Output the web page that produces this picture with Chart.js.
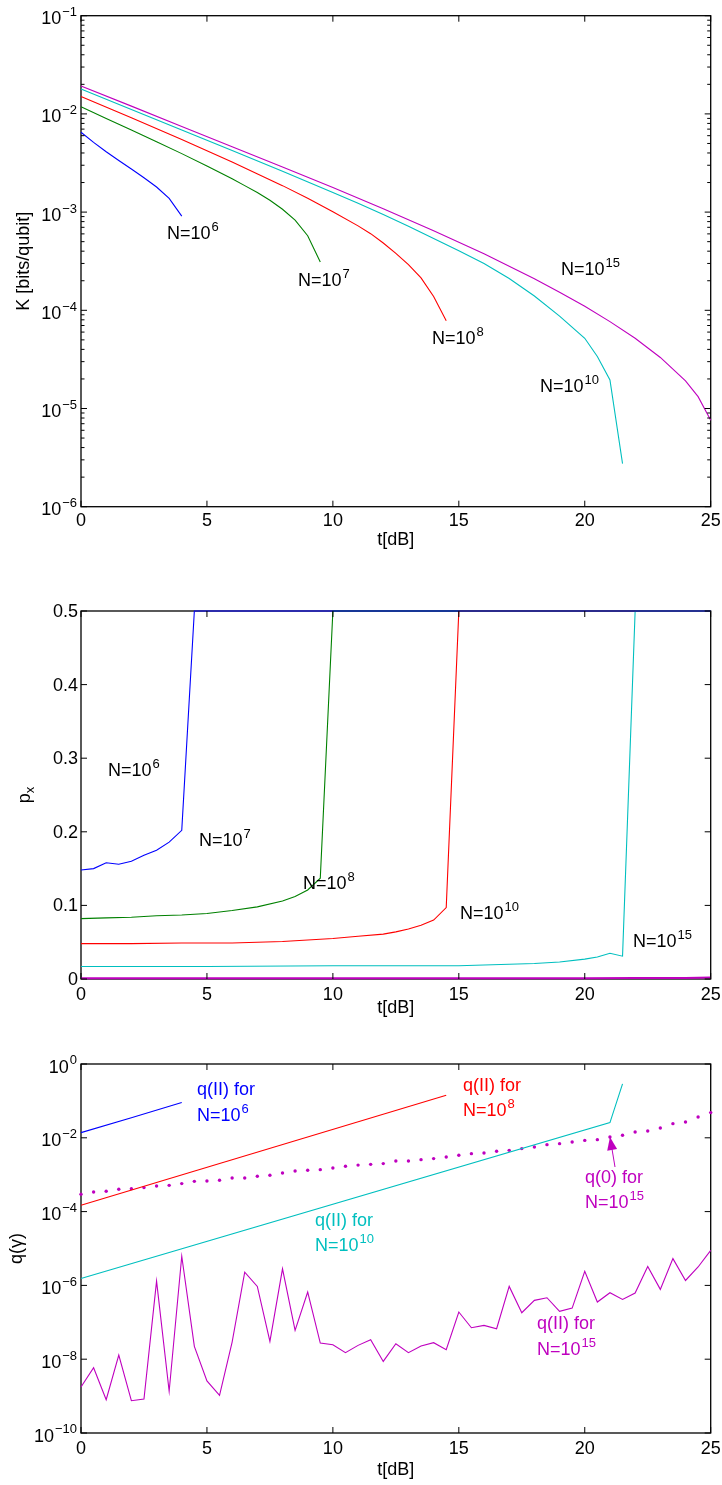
<!DOCTYPE html>
<html>
<head>
<meta charset="utf-8">
<title>K, p_x and q(γ) against t[dB]</title>
<script src="https://cdn.jsdelivr.net/npm/chart.js@4.4.1/dist/chart.umd.min.js"></script>
<style>
  body { margin: 0; background: #fff; }
  #wrap { position: relative; width: 722px; height: 1485px; overflow: hidden; }
  canvas { position: absolute; left: 0; }
</style>
</head>
<body>
<div id="wrap">
  <canvas id="kChart" width="722" height="560" style="top:0px"></canvas>
  <canvas id="pChart" width="722" height="470" style="top:560px"></canvas>
  <canvas id="qChart" width="722" height="455" style="top:1030px"></canvas>
</div>
<script>
const FONT = '"Liberation Sans", Arial, Helvetica, sans-serif';
const BLUE = '#0000ff', GREEN = '#008000', RED = '#ff0000', CYAN = '#00bfbf', MAGENTA = '#bf00bf';

// ---- top panel: K [bits/qubit] vs t[dB] ----
const kT6 = [0, 0.5, 1, 1.5, 2, 2.5, 3, 3.5, 4];
const kV6 = [6.5e-3, 5.13e-3, 4.12e-3, 3.35e-3, 2.75e-3, 2.24e-3, 1.80e-3, 1.38e-3, 9.1e-4];
const kT7 = [0, 1, 2, 3, 4, 5, 6, 6.5, 7, 7.5, 8, 8.5, 9, 9.5];
const kV7 = [1.18e-2, 9.0e-3, 6.87e-3, 5.21e-3, 3.94e-3, 2.95e-3, 2.19e-3, 1.86e-3, 1.58e-3, 1.32e-3, 1.07e-3, 8.3e-4, 5.75e-4, 3.1e-4];
const kT8 = [0, 2, 4, 6, 8, 9, 10, 11, 11.5, 12, 12.5, 13, 13.5, 14, 14.5];
const kV8 = [1.5e-2, 9.12e-3, 5.5e-3, 3.24e-3, 1.86e-3, 1.38e-3, 1.01e-3, 7.24e-4, 6.03e-4, 4.84e-4, 3.8e-4, 2.92e-4, 2.14e-4, 1.38e-4, 7.83e-5];
const kT10 = [0, 2, 4, 6, 8, 10, 11, 12, 13, 14, 15, 16, 17, 18, 19, 20, 20.5, 21, 21.5];
const kV10 = [1.79e-2, 1.11e-2, 6.87e-3, 4.24e-3, 2.6e-3, 1.58e-3, 1.23e-3, 9.44e-4, 7.16e-4, 5.4e-4, 4.05e-4, 2.99e-4, 2.11e-4, 1.4e-4, 8.71e-5, 5.19e-5, 3.39e-5, 1.95e-5, 2.75e-6];
const kT15 = [0, 2, 4, 6, 8, 10, 12, 14, 16, 18, 19, 20, 21, 22, 23, 24, 24.5, 25];
const kV15 = [1.92e-2, 1.2e-2, 7.45e-3, 4.63e-3, 2.88e-3, 1.78e-3, 1.08e-3, 6.46e-4, 3.76e-4, 2.09e-4, 1.53e-4, 1.1e-4, 7.67e-5, 5.19e-5, 3.31e-5, 1.91e-5, 1.32e-5, 7.6e-6];

// ---- middle panel: p_x vs t[dB] ----
const pT6 = [0, 0.5, 1, 1.5, 2, 2.5, 3, 3.5, 4, 4.5, 25];
const pV6 = [0.148, 0.150, 0.158, 0.156, 0.160, 0.168, 0.175, 0.186, 0.202, 0.5, 0.5];
const pT7 = [0, 1, 2, 3, 4, 5, 6, 7, 8, 8.5, 9, 9.5, 10, 25];
const pV7 = [0.082, 0.083, 0.084, 0.086, 0.087, 0.089, 0.093, 0.098, 0.106, 0.112, 0.121, 0.137, 0.5, 0.5];
const pT8 = [0, 2, 4, 6, 8, 10, 11, 12, 12.5, 13, 13.5, 14, 14.5, 15, 25];
const pV8 = [0.048, 0.048, 0.049, 0.049, 0.051, 0.055, 0.058, 0.061, 0.064, 0.068, 0.073, 0.080, 0.097, 0.5, 0.5];
const pT10 = [0, 5, 10, 15, 16, 17, 18, 19, 20, 20.5, 21, 21.5, 22, 25];
const pV10 = [0.017, 0.017, 0.018, 0.018, 0.019, 0.020, 0.021, 0.023, 0.027, 0.030, 0.035, 0.031, 0.5, 0.5];
const pT15 = [0, 5, 10, 15, 20, 22, 24, 25];
const pV15 = [0.001, 0.001, 0.001, 0.001, 0.001, 0.0012, 0.0015, 0.002];

// ---- bottom panel: q(gamma) vs t[dB] ----
const qT6 = [0, 2, 4];
const qV6 = [1.38e-2, 3.5e-2, 9.0e-2];
const qT8 = [0, 14.5];
const qV8 = [1.48e-4, 0.142];
const qT10 = [0, 21, 21.5];
const qV10 = [1.53e-6, 2.58e-2, 0.29];
const qT15 = [0, 0.5, 1, 1.5, 2, 2.5, 3, 3.5, 4, 4.5, 5, 5.5, 6, 6.5, 7, 7.5, 8, 8.5, 9, 9.5,
  10, 10.5, 11, 11.5, 12, 12.5, 13, 13.5, 14, 14.5, 15, 15.5, 16, 16.5, 17, 17.5, 18, 18.5, 19, 19.5,
  20, 20.5, 21, 21.5, 22, 22.5, 23, 23.5, 24, 24.5, 25];
const q0V15 = [2.94e-4, 3.40e-4, 3.55e-4, 4.02e-4, 4.19e-4, 4.47e-4, 4.94e-4, 5.15e-4, 5.73e-4, 6.61e-4,
  6.76e-4, 7.05e-4, 8.13e-4, 8.13e-4, 9.06e-4, 9.64e-4, 1.11e-3, 1.26e-3, 1.32e-3, 1.37e-3,
  1.52e-3, 1.69e-3, 1.82e-3, 1.91e-3, 2.0e-3, 2.36e-3, 2.36e-3, 2.56e-3, 2.73e-3, 3.02e-3,
  3.36e-3, 3.72e-3, 3.89e-3, 4.31e-3, 4.57e-3, 5.09e-3, 5.62e-3, 6.53e-3, 6.95e-3, 7.71e-3,
  8.51e-3, 8.91e-3, 1.05e-2, 1.17e-2, 1.44e-2, 1.53e-2, 1.85e-2, 2.42e-2, 2.69e-2, 3.66e-2, 4.82e-2];
const qIIV15 = [1.76e-9, 5.89e-9, 8.0e-10, 1.30e-8, 7.5e-10, 8.3e-10, 1.31e-6, 1.35e-9, 6.17e-6, 2.23e-8,
  2.57e-9, 1.05e-9, 2.92e-8, 2.29e-6, 9.4e-7, 3.04e-8, 2.82e-6, 6.04e-8, 6.6e-7, 2.74e-8,
  2.47e-8, 1.50e-8, 2.37e-8, 3.39e-8, 8.7e-9, 2.63e-8, 1.50e-8, 2.28e-8, 2.80e-8, 1.81e-8,
  1.90e-7, 7.13e-8, 8.24e-8, 6.70e-8, 9.4e-7, 1.82e-7, 3.93e-7, 4.63e-7, 1.98e-7, 2.43e-7,
  2.40e-6, 3.54e-7, 6.32e-7, 4.18e-7, 6.19e-7, 3.27e-6, 7.8e-7, 5.32e-6, 1.36e-6, 3.16e-6, 8.9e-6];

// axis ticks
const dbTicks = [0, 5, 10, 15, 20, 25];
const kTicks = [1e-6, 1e-5, 1e-4, 1e-3, 1e-2, 1e-1];
const pTicks = [0, 0.1, 0.2, 0.3, 0.4, 0.5];
const qTicks = [1e-10, 1e-8, 1e-6, 1e-4, 1e-2, 1];

// draws base text with an optional superscript, left/right aligned at baseline y
function drawSup(ctx, base, sup, x, y, size, color, align) {
    ctx.save();
    ctx.fillStyle = color || '#000';
    ctx.textBaseline = 'alphabetic';
    ctx.textAlign = 'left';
    const ss = Math.round(size * 0.72);
    ctx.font = size + 'px ' + FONT;
    const wb = ctx.measureText(base).width;
    ctx.font = ss + 'px ' + FONT;
    const ws = sup ? ctx.measureText(sup).width + 1 : 0;
    let x0 = x;
    if (align === 'right') x0 = x - wb - ws;
    if (align === 'center') x0 = x - (wb + ws) / 2;
    ctx.font = size + 'px ' + FONT;
    ctx.fillText(base, x0, y);
    if (sup) {
        ctx.font = ss + 'px ' + FONT;
        ctx.fillText(sup, x0 + wb + 1, y - size * 0.45);
    }
    ctx.restore();
}

function powLabel(v) {
    const e = Math.round(Math.log10(v));
    return e < 0 ? '\u2212' + (-e) : String(e);
}

function logMinors(ticks) {
    const out = [];
    for (let i = 0; i < ticks.length - 1; i++) {
        for (let m = 2; m <= 9; m++) out.push(ticks[i] * m);
    }
    return out;
}

// MATLAB-like box, inward ticks, labels and annotations
function matlabAxes(o) {
    return {
        id: 'matlabAxes',
        beforeDatasetsDraw(chart) {
            const { ctx, chartArea: a } = chart;
            ctx.save();
            ctx.strokeStyle = '#000';
            ctx.lineWidth = 1.3;
            ctx.strokeRect(a.left, a.top, a.right - a.left, a.bottom - a.top);
            ctx.restore();
        },
        afterDatasetsDraw(chart) {
            const { ctx, chartArea: a, scales } = chart;
            const xs = scales.x, ys = scales.y;
            const off = o.canvasTop;
            ctx.save();
            ctx.strokeStyle = '#000';
            ctx.lineWidth = 1;
            ctx.beginPath();
            o.xTicks.forEach(v => {
                const px = xs.getPixelForValue(v);
                ctx.moveTo(px, a.bottom); ctx.lineTo(px, a.bottom - 6);
                ctx.moveTo(px, a.top); ctx.lineTo(px, a.top + 6);
            });
            o.yTicks.forEach(v => {
                const py = ys.getPixelForValue(v);
                ctx.moveTo(a.left, py); ctx.lineTo(a.left + 6, py);
                ctx.moveTo(a.right, py); ctx.lineTo(a.right - 6, py);
            });
            (o.yMinor || []).forEach(v => {
                const py = ys.getPixelForValue(v);
                ctx.moveTo(a.left, py); ctx.lineTo(a.left + 3.5, py);
                ctx.moveTo(a.right, py); ctx.lineTo(a.right - 3.5, py);
            });
            ctx.stroke();

            ctx.fillStyle = '#000';
            ctx.font = '18px ' + FONT;
            ctx.textAlign = 'center';
            ctx.textBaseline = 'middle';
            o.xTicks.forEach(v => ctx.fillText(String(v), xs.getPixelForValue(v), o.xTickY - off));

            o.yTicks.forEach(v => {
                const py = ys.getPixelForValue(v);
                if (o.yLog) {
                    drawSup(ctx, '10', powLabel(v), 77, py + 8.5, 18, '#000', 'right');
                } else {
                    ctx.textAlign = 'right';
                    ctx.fillText(String(v), 78, py + 1);
                }
            });

            ctx.textAlign = 'center';
            ctx.textBaseline = 'middle';
            ctx.font = '18px ' + FONT;
            ctx.fillText('t[dB]', (a.left + a.right) / 2, o.xTitleY - off);

            ctx.save();
            ctx.translate(o.yTitleX, (a.top + a.bottom) / 2);
            ctx.rotate(-Math.PI / 2);
            o.yTitle(ctx);
            ctx.restore();

            (o.notes || []).forEach(n => drawSup(ctx, n.base, n.sup, n.x, n.y - off, 18, n.color, 'left'));

            if (o.arrow) {
                const ar = o.arrow;
                const x1 = ar.x1, y1 = ar.y1 - off, x2 = ar.x2, y2 = ar.y2 - off;
                const ang = Math.atan2(y2 - y1, x2 - x1);
                ctx.strokeStyle = ar.color;
                ctx.fillStyle = ar.color;
                ctx.lineWidth = 1;
                ctx.beginPath();
                ctx.moveTo(x1, y1); ctx.lineTo(x2, y2);
                ctx.stroke();
                ctx.beginPath();
                ctx.moveTo(x2, y2);
                ctx.lineTo(x2 - 13 * Math.cos(ang) + 5 * Math.sin(ang), y2 - 13 * Math.sin(ang) - 5 * Math.cos(ang));
                ctx.lineTo(x2 - 13 * Math.cos(ang) - 5 * Math.sin(ang), y2 - 13 * Math.sin(ang) + 5 * Math.cos(ang));
                ctx.closePath();
                ctx.fill();
            }
            ctx.restore();
        }
    };
}

function series(xs, ys, color, extra) {
    return Object.assign({
        data: xs.map((x, i) => ({ x: x, y: ys[i] })),
        borderColor: color,
        backgroundColor: color,
        borderWidth: 1.1,
        pointRadius: 0,
        tension: 0,
        fill: false,
        clip: 4
    }, extra || {});
}

function baseOptions(yType, yMin, yMax, padding) {
    return {
        responsive: false,
        animation: false,
        events: [],
        layout: { padding: padding },
        plugins: { legend: { display: false }, tooltip: { enabled: false } },
        scales: {
            x: { type: 'linear', min: 0, max: 25, display: false },
            y: { type: yType, min: yMin, max: yMax, display: false }
        }
    };
}

function rotatedText(txt, sub) {
    return function(ctx) {
        ctx.fillStyle = '#000';
        ctx.textBaseline = 'middle';
        ctx.font = '18px ' + FONT;
        if (!sub) {
            ctx.textAlign = 'center';
            ctx.fillText(txt, 0, 0);
            return;
        }
        const w1 = ctx.measureText(txt).width;
        ctx.font = '13px ' + FONT;
        const w2 = ctx.measureText(sub).width;
        ctx.textAlign = 'left';
        ctx.font = '18px ' + FONT;
        ctx.fillText(txt, -(w1 + w2) / 2, 0);
        ctx.font = '13px ' + FONT;
        ctx.fillText(sub, -(w1 + w2) / 2 + w1, 5);
    };
}

// top chart
new Chart(document.getElementById('kChart'), {
    type: 'line',
    data: {
        datasets: [
            series(kT6, kV6, BLUE),
            series(kT7, kV7, GREEN),
            series(kT8, kV8, RED),
            series(kT10, kV10, CYAN),
            series(kT15, kV15, MAGENTA)
        ]
    },
    options: baseOptions('logarithmic', 1e-6, 1e-1, { left: 81, right: 11.3, top: 15.7, bottom: 53.3 }),
    plugins: [matlabAxes({
        canvasTop: 0,
        xTicks: dbTicks, yTicks: kTicks, yMinor: logMinors(kTicks), yLog: true,
        xTickY: 521, xTitleY: 540, yTitleX: 24,
        yTitle: rotatedText('K [bits/qubit]'),
        notes: [
            { x: 167, y: 239, base: 'N=10', sup: '6', color: '#000' },
            { x: 298, y: 286, base: 'N=10', sup: '7', color: '#000' },
            { x: 432, y: 344, base: 'N=10', sup: '8', color: '#000' },
            { x: 540, y: 392, base: 'N=10', sup: '10', color: '#000' },
            { x: 561, y: 275, base: 'N=10', sup: '15', color: '#000' }
        ]
    })]
});

// middle chart
new Chart(document.getElementById('pChart'), {
    type: 'line',
    data: {
        datasets: [
            series(pT6, pV6, BLUE),
            series(pT7, pV7, GREEN),
            series(pT8, pV8, RED),
            series(pT10, pV10, CYAN),
            series(pT15, pV15, MAGENTA, { borderWidth: 2 })
        ]
    },
    options: baseOptions('linear', 0, 0.5, { left: 81, right: 11.3, top: 51, bottom: 51 }),
    plugins: [matlabAxes({
        canvasTop: 560,
        xTicks: dbTicks, yTicks: pTicks, yLog: false,
        xTickY: 995, xTitleY: 1008, yTitleX: 25,
        yTitle: rotatedText('p', 'x'),
        notes: [
            { x: 108, y: 776, base: 'N=10', sup: '6', color: '#000' },
            { x: 199, y: 846, base: 'N=10', sup: '7', color: '#000' },
            { x: 303, y: 889, base: 'N=10', sup: '8', color: '#000' },
            { x: 460, y: 919, base: 'N=10', sup: '10', color: '#000' },
            { x: 633, y: 947, base: 'N=10', sup: '15', color: '#000' }
        ]
    })]
});

// bottom chart
new Chart(document.getElementById('qChart'), {
    type: 'line',
    data: {
        datasets: [
            series(qT6, qV6, BLUE),
            series(qT8, qV8, RED),
            series(qT10, qV10, CYAN),
            series(qT15, q0V15, MAGENTA, { showLine: false, pointRadius: 1.7, pointBorderWidth: 0, pointBackgroundColor: MAGENTA }),
            series(qT15, qIIV15, MAGENTA)
        ]
    },
    options: baseOptions('logarithmic', 1e-10, 1, { left: 81, right: 11.3, top: 34, bottom: 52 }),
    plugins: [matlabAxes({
        canvasTop: 1030,
        xTicks: dbTicks, yTicks: qTicks, yLog: true,
        xTickY: 1449, xTitleY: 1470, yTitleX: 17,
        yTitle: rotatedText('q(\u03b3)'),
        notes: [
            { x: 197, y: 1095, base: 'q(II) for', sup: '', color: BLUE },
            { x: 197, y: 1121, base: 'N=10', sup: '6', color: BLUE },
            { x: 463, y: 1091, base: 'q(II) for', sup: '', color: RED },
            { x: 463, y: 1116, base: 'N=10', sup: '8', color: RED },
            { x: 315, y: 1226, base: 'q(II) for', sup: '', color: CYAN },
            { x: 315, y: 1251, base: 'N=10', sup: '10', color: CYAN },
            { x: 585, y: 1183, base: 'q(0) for', sup: '', color: MAGENTA },
            { x: 585, y: 1208, base: 'N=10', sup: '15', color: MAGENTA },
            { x: 537, y: 1329, base: 'q(II) for', sup: '', color: MAGENTA },
            { x: 537, y: 1355, base: 'N=10', sup: '15', color: MAGENTA }
        ],
        arrow: { x1: 615, y1: 1167, x2: 610, y2: 1137, color: MAGENTA }
    })]
});
</script>
</body>
</html>
